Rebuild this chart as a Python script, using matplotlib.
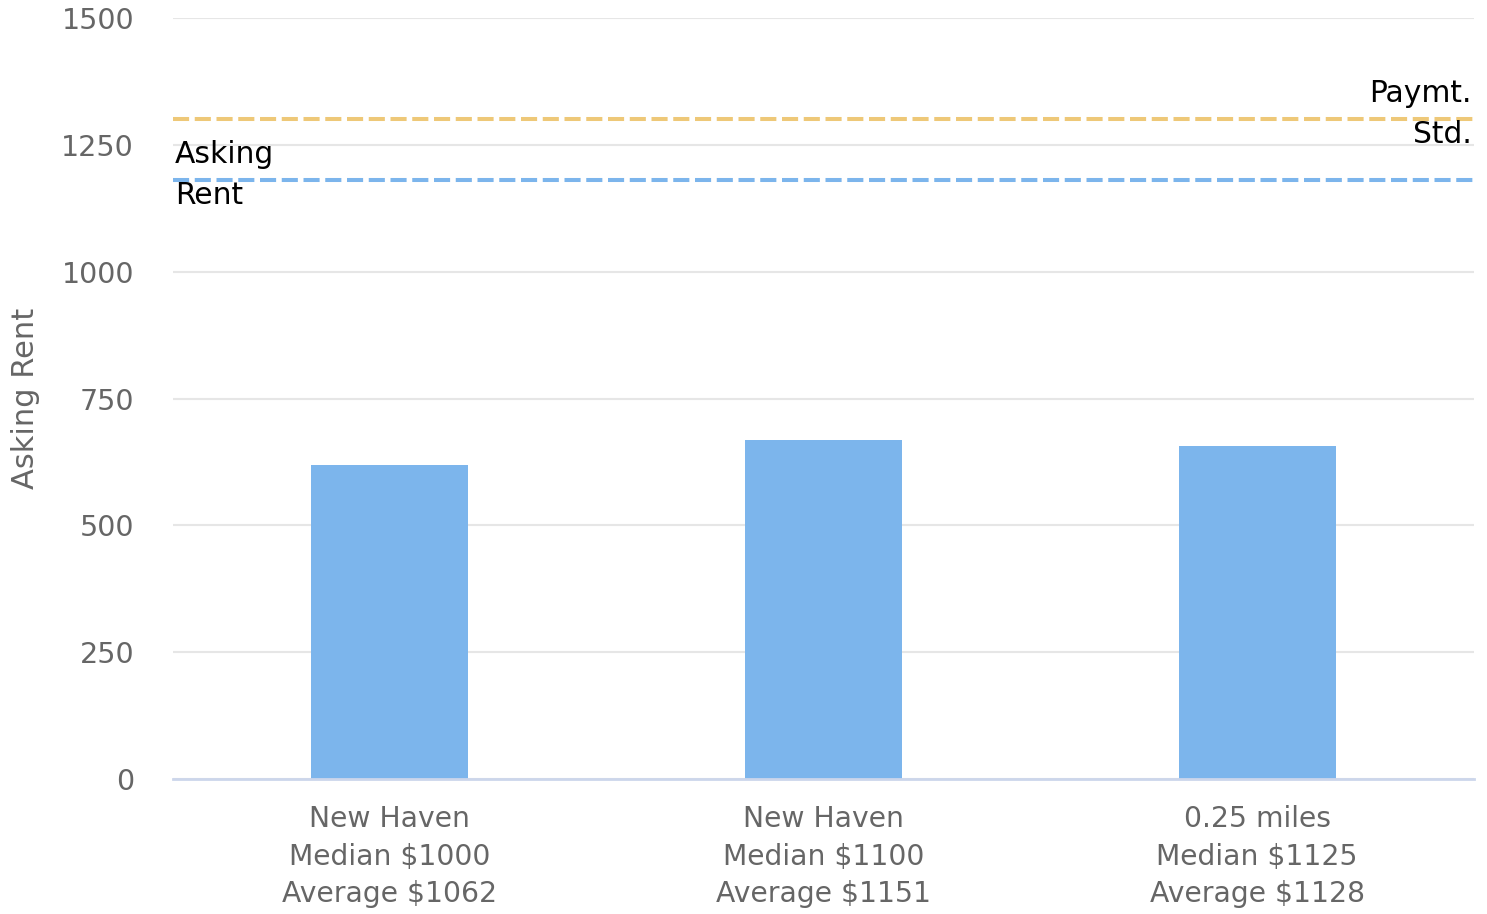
import numpy as np
import matplotlib.pyplot as plt

# data
categories = ['New Haven\nMedian $1000\nAverage $1062',
              'New Haven\nMedian $1100\nAverage $1151',
              '0.25 miles\nMedian $1125\nAverage $1128']
rents = [618, 669, 657]
asking_rent = 1180
paymt_std = 1300
y_ticks = [0, 250, 500, 750, 1000, 1250, 1500]

plt.rcParams['font.family'] = ['DejaVu Sans']

fig = plt.figure(figsize=(14.87, 9.14), dpi=100)
ax = fig.add_axes([0.1163, 0.1477, 0.875, 0.8326])

x = np.arange(len(categories))
ax.bar(x, rents, width=0.362, color='#7cb5ec', zorder=3)

# plot lines
ax.axhline(paymt_std, color='#eec878', lw=2.9, dashes=(4, 1.4), zorder=4)
ax.axhline(asking_rent, color='#7cb5ec', lw=2.9, dashes=(4, 1.4), zorder=4)

ax.annotate('Asking\nRent', xy=(0.0015, asking_rent), xycoords=ax.get_yaxis_transform(),
            xytext=(0, 4), textcoords='offset points',
            ha='left', va='center', fontsize=21.4, color='black', linespacing=1.5,
            zorder=5)
ax.annotate('Paymt.\nStd.', xy=(0.9985, paymt_std), xycoords=ax.get_yaxis_transform(),
            xytext=(0, 4), textcoords='offset points',
            ha='right', va='center', fontsize=21.4, color='black', linespacing=1.5,
            zorder=5)

ax.set_xlim(-0.5, 2.5)
ax.set_ylim(0, 1500)
ax.set_yticks(y_ticks)
ax.set_xticks(x)
ax.set_xticklabels(categories, fontsize=20.3, color='#666666', linespacing=1.43)
ax.tick_params(axis='y', labelsize=20.5, labelcolor='#666666', length=0, pad=28)
ax.tick_params(axis='x', length=0, pad=19)

ax.grid(axis='y', color='#e6e6e6', lw=1.5, zorder=0)
for side in ['top', 'right', 'left']:
    ax.spines[side].set_visible(False)
ax.spines['bottom'].set_color('#ccd6eb')
ax.spines['bottom'].set_linewidth(2)
ax.spines['bottom'].set_zorder(4)

ax.set_ylabel('Asking Rent', fontsize=22, color='#666666')
ax.yaxis.set_label_coords(-0.102, 0.5)

fig.savefig('out.png', dpi=100)
